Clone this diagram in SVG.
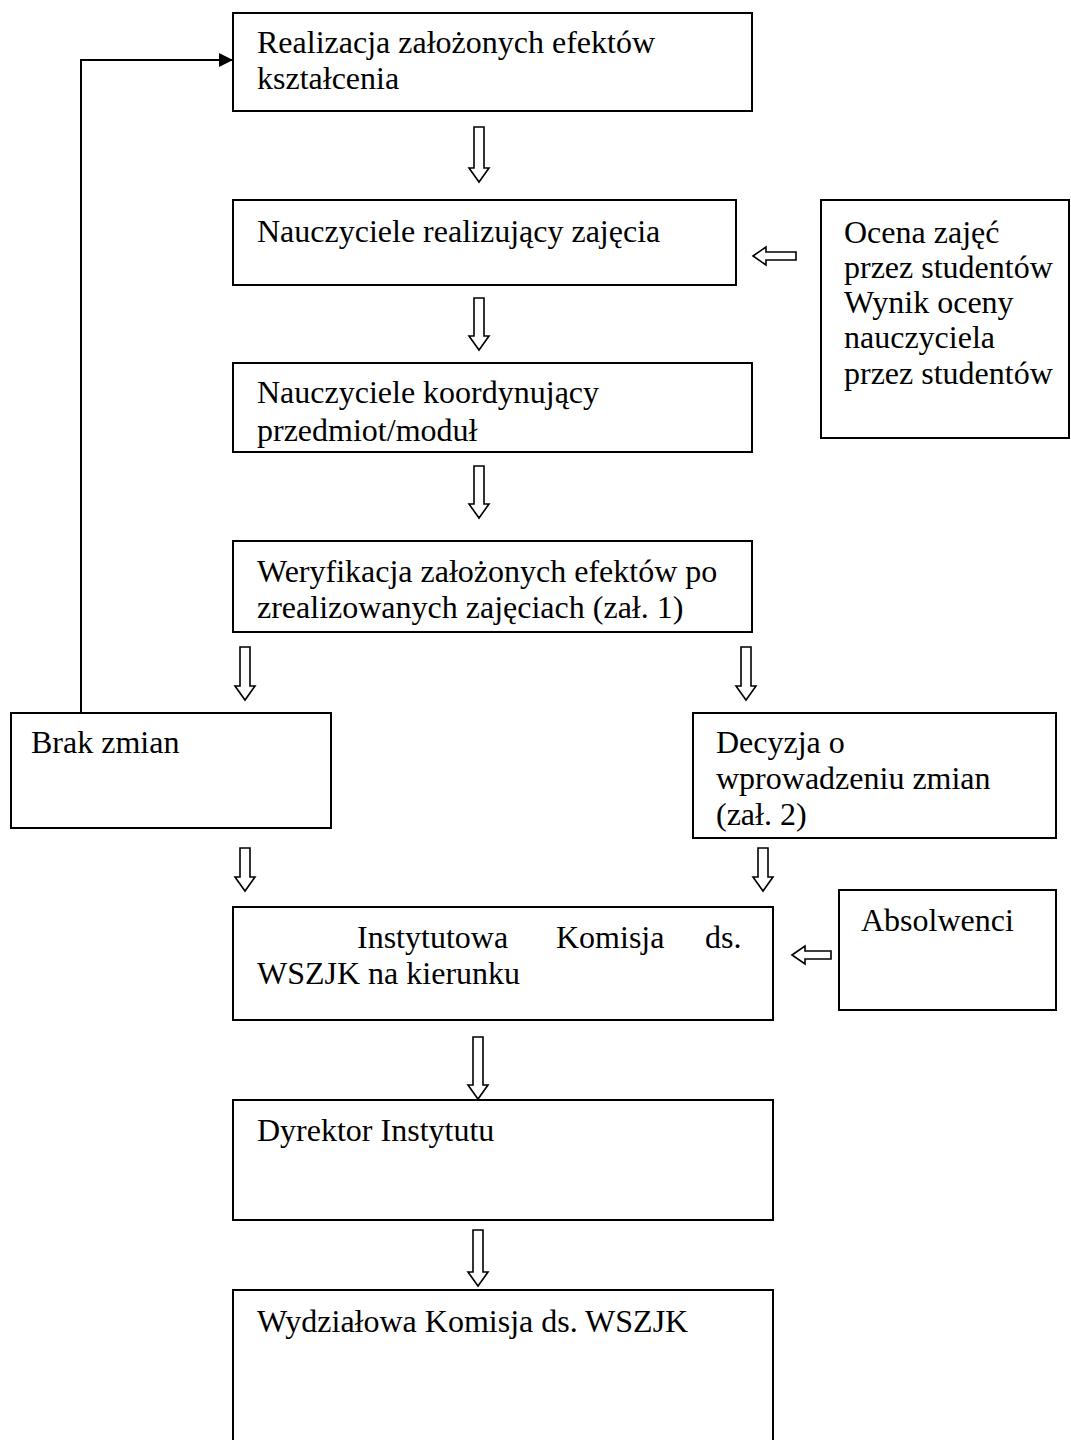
<svg xmlns="http://www.w3.org/2000/svg" width="1071" height="1440" viewBox="0 0 1071 1440">
<style>
.box{fill:#fff;stroke:#000;stroke-width:2}
.t{font-family:"Liberation Serif","Times New Roman",serif;font-size:32px;fill:#000}
.ba{fill:#fff;stroke:#000;stroke-width:1.6;stroke-linejoin:miter}
.ln{fill:none;stroke:#000;stroke-width:2}
</style>
<defs>
<marker id="ah" markerWidth="14" markerHeight="14" refX="13" refY="7" orient="auto" markerUnits="userSpaceOnUse" viewBox="0 0 14 14">
<path d="M0,0 L14,7 L0,14 Z" fill="#000"/>
</marker>
</defs>
<rect width="1071" height="1440" fill="#fff"/>

<g id="n1"><rect class="box" x="233" y="13" width="519" height="98"/>
<text class="t" x="257" y="53">Realizacja założonych efektów</text>
<text class="t" x="257" y="89">kształcenia</text></g>

<g id="n2"><rect class="box" x="233" y="200" width="503" height="85"/>
<text class="t" x="257" y="242">Nauczyciele realizujący zajęcia</text></g>

<g id="n3"><rect class="box" x="821" y="200" width="248" height="238"/>
<text class="t" x="844" y="243">Ocena zajęć</text>
<text class="t" x="844" y="278">przez studentów</text>
<text class="t" x="844" y="313">Wynik oceny</text>
<text class="t" x="844" y="348">nauczyciela</text>
<text class="t" x="844" y="384">przez studentów</text></g>

<g id="n4"><rect class="box" x="233" y="363" width="519" height="89"/>
<text class="t" x="257" y="403">Nauczyciele koordynujący</text>
<text class="t" x="257" y="441">przedmiot/moduł</text></g>

<g id="n5"><rect class="box" x="233" y="541" width="519" height="91"/>
<text class="t" x="257" y="582">Weryfikacja założonych efektów po</text>
<text class="t" x="257" y="618">zrealizowanych zajęciach (zał. 1)</text></g>

<g id="n6"><rect class="box" x="11" y="713" width="320" height="115"/>
<text class="t" x="31" y="753">Brak zmian</text></g>

<g id="n7"><rect class="box" x="693" y="713" width="363" height="125"/>
<text class="t" x="716" y="753">Decyzja o</text>
<text class="t" x="716" y="789">wprowadzeniu zmian</text>
<text class="t" x="716" y="825">(zał. 2)</text></g>

<g id="n8"><rect class="box" x="233" y="907" width="540" height="113"/>
<text class="t" x="357" y="948">Instytutowa</text>
<text class="t" x="556" y="948">Komisja</text>
<text class="t" x="705" y="948">ds.</text>
<text class="t" x="257" y="984">WSZJK na kierunku</text></g>

<g id="n9"><rect class="box" x="839" y="890" width="217" height="120"/>
<text class="t" x="861" y="931">Absolwenci</text></g>

<g id="n10"><rect class="box" x="233" y="1100" width="540" height="120"/>
<text class="t" x="257" y="1141">Dyrektor Instytutu</text></g>

<g id="n11"><rect class="box" x="233" y="1290" width="540" height="160"/>
<text class="t" x="257" y="1332">Wydziałowa Komisja ds. WSZJK</text></g>

<g id="connectors">
<path class="ln" d="M81,713 V60 H232" marker-end="url(#ah)"/>
<path class="ba" d="M474,127 H484 V168 H489 L479,182 L469,168 H474 Z"/>
<path class="ba" d="M474,298 H484 V336 H489 L479,350 L469,336 H474 Z"/>
<path class="ba" d="M474,466 H484 V504 H489 L479,518 L469,504 H474 Z"/>
<path class="ba" d="M240,647 H250 V686 H255 L245,700 L235,686 H240 Z"/>
<path class="ba" d="M741,647 H751 V686 H756 L746,700 L736,686 H741 Z"/>
<path class="ba" d="M240,848 H250 V877 H255 L245,891 L235,877 H240 Z"/>
<path class="ba" d="M758,848 H768 V877 H773 L763,891 L753,877 H758 Z"/>
<path class="ba" d="M473,1037 H483 V1085 H488 L478,1099 L468,1085 H473 Z"/>
<path class="ba" d="M473,1230 H483 V1272 H488 L478,1286 L468,1272 H473 Z"/>
<path class="ba" d="M753,256 L766,247 V252 H796 V260 H766 V265 Z"/>
<path class="ba" d="M792,955 L805,946 V951 H831 V959 H805 V964 Z"/>
</g>
</svg>
